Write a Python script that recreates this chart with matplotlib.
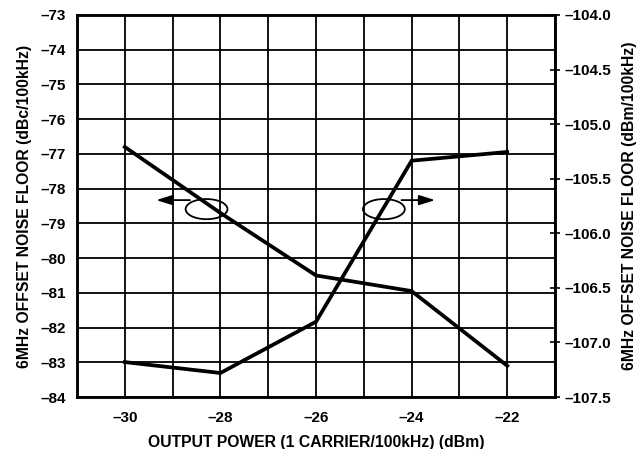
import matplotlib
matplotlib.use("Agg")
import matplotlib.pyplot as plt
from matplotlib.patches import Ellipse
from matplotlib.ticker import MultipleLocator, FuncFormatter

plt.rcParams['font.family'] = ['Liberation Sans', 'DejaVu Sans']
plt.rcParams['font.weight'] = 'bold'

# Output power points (dBm)
power = [-30, -28, -26, -24, -22]
# Noise floor relative to carrier (left axis, dBc/100kHz)
floor_dbc = [-76.8, -78.7, -80.5, -80.95, -83.1]
# Absolute noise floor (right axis, dBm/100kHz)
floor_dbm = [-107.18, -107.28, -106.81, -105.335, -105.255]

x_ticks = [-30, -28, -26, -24, -22]
left_ticks = list(range(-84, -72))
right_ticks = [-107.5, -107.0, -106.5, -106.0, -105.5, -105.0, -104.5, -104.0]

TICK_FS = 11
LABEL_FS = 11.3

fig = plt.figure(figsize=(6.44, 4.49), dpi=100)
ax = fig.add_axes([0.1196, 0.1158, 0.7422, 0.8508])

ax.set_xlim(-31, -21)
ax.set_ylim(-84, -73)
ax.xaxis.set_major_locator(MultipleLocator(1))
ax.set_yticks(left_ticks)

minus = lambda v: f"{v:g}".replace('-', '\u2013')
ax.xaxis.set_major_formatter(FuncFormatter(
    lambda v, p: minus(int(round(v))) if int(round(v)) in x_ticks else ''))
ax.yaxis.set_major_formatter(FuncFormatter(lambda v, p: minus(int(round(v)))))

ax.grid(True, color='black', linewidth=1.3)
ax.tick_params(axis='both', length=0, labelsize=TICK_FS)
ax.tick_params(axis='y', pad=8)
ax.tick_params(axis='x', pad=10)
for lbl in ax.get_xticklabels() + ax.get_yticklabels():
    lbl.set_fontweight('bold')
for s in ax.spines.values():
    s.set_linewidth(1.8)

ax.plot(power, floor_dbc, color='black', linewidth=2.7, solid_joinstyle='miter')

ax2 = ax.twinx()
ax2.set_ylim(-107.5, -104.0)
ax2.set_yticks(right_ticks)
ax2.yaxis.set_major_formatter(FuncFormatter(lambda v, p: f"{v:.1f}".replace('-', '\u2013')))
ax2.tick_params(axis='y', direction='inout', length=7, width=1.2, labelsize=TICK_FS, pad=3)
for lbl in ax2.get_yticklabels():
    lbl.set_fontweight('bold')
for s in ax2.spines.values():
    s.set_linewidth(1.8)
ax2.plot(power, floor_dbm, color='black', linewidth=2.7, solid_joinstyle='miter')

# Series markers: ellipses with arrows pointing to the relevant axis
ax.add_patch(Ellipse((-28.29, -78.59), 0.875, 0.58, fill=False, edgecolor='black', linewidth=1.3))
ax.annotate('', xy=(-29.4, -78.33), xytext=(-28.58, -78.33),
            arrowprops=dict(arrowstyle='-|>,head_length=0.8,head_width=0.25',
                            color='black', lw=1.3, mutation_scale=12))
ax.add_patch(Ellipse((-24.58, -78.59), 0.875, 0.58, fill=False, edgecolor='black', linewidth=1.3))
ax.annotate('', xy=(-23.45, -78.33), xytext=(-24.27, -78.33),
            arrowprops=dict(arrowstyle='-|>,head_length=0.8,head_width=0.25',
                            color='black', lw=1.3, mutation_scale=12))

ax.set_xlabel('OUTPUT POWER (1 CARRIER/100kHz) (dBm)', fontsize=LABEL_FS, fontweight='bold', labelpad=7)
ax.set_ylabel('6MHz OFFSET NOISE FLOOR (dBc/100kHz)', fontsize=LABEL_FS, fontweight='bold', labelpad=6)
ax2.set_ylabel('6MHz OFFSET NOISE FLOOR (dBm/100kHz)', fontsize=LABEL_FS, fontweight='bold', labelpad=8)

fig.savefig('out.png', dpi=100)
